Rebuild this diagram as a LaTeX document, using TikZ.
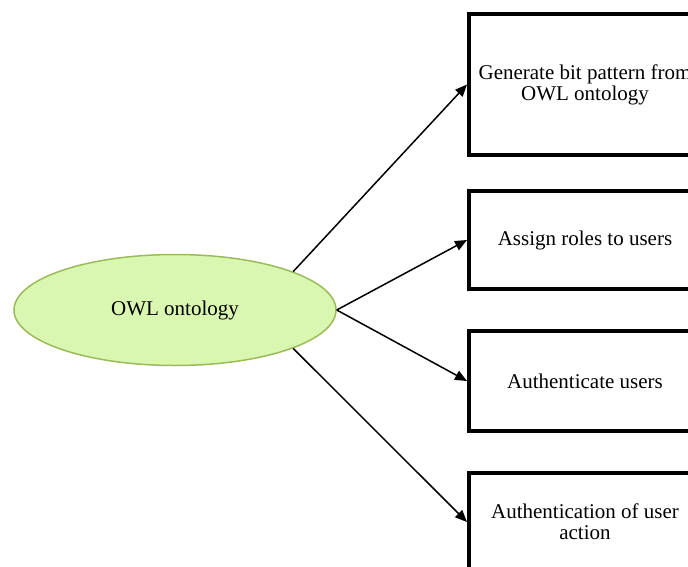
\documentclass[tikz,border=0pt]{standalone}
\usepackage{fontspec}
\setmainfont{Liberation Serif}
\usetikzlibrary{shapes.geometric, arrows.meta, positioning}
\definecolor{owlfill}{HTML}{D9F7B1}
\definecolor{owldraw}{HTML}{9BBB59}
\tikzset{
  owlnode/.style={
    ellipse, draw=owldraw, fill=owlfill, line width=1.5pt,
    minimum width=322pt, minimum height=111pt,
    font=\fontsize{21}{21}\selectfont
  },
  taskbox/.style={
    rectangle, draw=black, line width=4pt,
    minimum width=232pt, minimum height=#1,
    align=center, font=\fontsize{21}{21}\selectfont
  },
  arrow/.style={-{Triangle[length=12pt,width=10pt]}, line width=1.5pt}
}
\begin{document}
\begin{tikzpicture}[x=1pt, y=-1pt]
    \useasboundingbox (0,0) rectangle (688,567);
    \clip (0,0) rectangle (688,567);

    % Ellipse
    \node[owlnode] (owl) at (175,310) {OWL ontology};

    % Boxes
    \node[taskbox=141pt, anchor=west] (gen) at (467,84.5)
      {Generate bit pattern from\\OWL ontology};
    \node[taskbox=98pt, anchor=west] (roles) at (467,240)
      {Assign roles to users};
    \node[taskbox=100pt, anchor=west] (auth) at (467,381)
      {Authenticate users};
    \node[taskbox=98pt, anchor=west] (act) at (467,522)
      {Authentication of user\\action};

    % Flechas
    \draw[arrow] (owl.18) -- (gen.west);
    \draw[arrow] (owl.east) -- (roles.west);
    \draw[arrow] (owl.east) -- (auth.west);
    \draw[arrow] (owl.-18) -- (act.west);
\end{tikzpicture}
\end{document}
